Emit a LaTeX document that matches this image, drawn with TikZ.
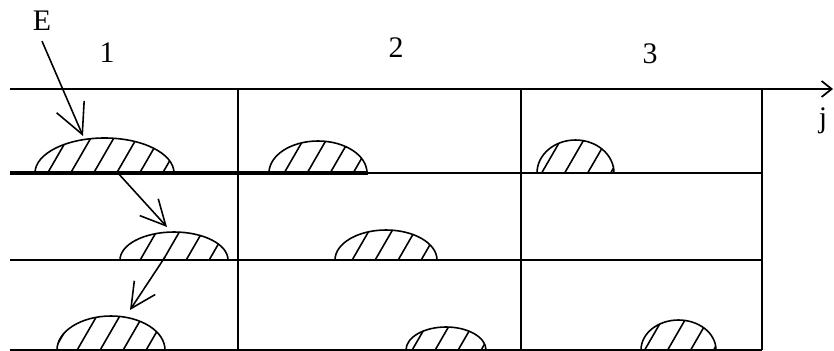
\documentclass[tikz,border=0pt]{standalone}
\usepackage{fontspec}
\setmainfont{Liberation Serif}
\usetikzlibrary{arrows.meta}
\usetikzlibrary{positioning}

\tikzset{
  grid line/.style={line width=1.1pt},
  flow/.style={line width=0.9pt,-{Straight Barb[length=5mm,width=5mm]}},
  axis/.style={line width=1pt,-{Straight Barb[length=2mm,width=3.2mm]}},
  lab/.style={font=\fontsize{17}{19}\selectfont,inner sep=0pt},
  hatch/.style={line width=0.9pt}
}

% hatched half-ellipse: centre x, half width, height, base y
\newcommand{\hump}[4]{%
  \begin{scope}
    \clip (#1-#2,#4) arc[start angle=180,end angle=360,x radius=#2,y radius=#3] -- cycle;
    \foreach \k in {-7,...,7}
      \draw[hatch] ({#1+23*\k-12},#4+2) -- ++(26,-45);
  \end{scope}
  \draw[hatch] (#1-#2,#4) arc[start angle=180,end angle=360,x radius=#2,y radius=#3];
}

\begin{document}
\begin{tikzpicture}[x=0.02cm,y=-0.02cm]
		\useasboundingbox (0,0) rectangle (834,351);
		
		% axis j along the top
		\coordinate (o) at (10,89);
		\coordinate (jend) at (833,89);
		\draw[axis] (o) -- (jend);
		
		% cells
		\foreach \y in {173,260,350}
			\draw[grid line] (10,\y) -- (762,\y);
		\foreach \x in {238,521,762}
			\draw[grid line] (\x,89) -- (\x,350);
		\draw[line width=1.8pt] (10,173) -- (368,173);
		
		% labels
		\node[lab] (E) at (42,21) {E};
		\node[lab] (n1) at (107,53) {1};
		\node[lab] (n2) at (396,48) {2};
		\node[lab] (n3) at (650,54) {3};
		\node[lab] (j) at (823,121) {j};
		
		% hatched bumps, row by row
		\hump{104.5}{69.5}{35}{173}
		\hump{318}{49}{32}{173}
		\hump{575.5}{38.5}{33}{173}
		\hump{174}{54}{28}{260}
		\hump{386}{51}{30}{260}
		\hump{111}{54}{34}{350}
		\hump{446}{40}{23}{350}
		\hump{678.5}{37.5}{30}{350}
		
		% path of E
		\coordinate (e1) at (83,136);
		\coordinate (s2) at (117,172);
		\coordinate (e2) at (167,227);
		\coordinate (s3) at (165,257);
		\coordinate (e3) at (130,310);
		\draw[flow,-{Straight Barb[length=6mm,width=6mm]}] ([yshift=-0.2cm]E.south) -- (e1);
		\draw[flow] (s2) -- (e2);
		\draw[flow] (s3) -- (e3);
	\end{tikzpicture}
\end{document}
